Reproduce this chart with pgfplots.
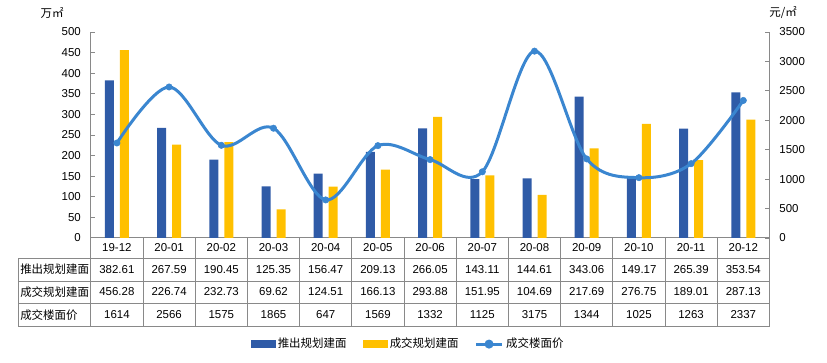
\documentclass[border=0pt]{standalone}
\usepackage{pgfplots}
\pgfplotsset{compat=1.18}
\usepackage{pgfplotstable}
\usepackage{fontspec}
\setmainfont{Liberation Sans}
\newfontfamily\cjk{Noto Sans CJK SC}

\definecolor{barblue}{RGB}{47,91,167}
\definecolor{baryellow}{RGB}{255,192,0}
\definecolor{lineblue}{RGB}{58,134,208}
\definecolor{gridgray}{RGB}{137,137,137}

\pgfplotstableread{
x cat a b p
0 19-12 382.61 456.28 1614
1 20-01 267.59 226.74 2566
2 20-02 190.45 232.73 1575
3 20-03 125.35 69.62 1865
4 20-04 156.47 124.51 647
5 20-05 209.13 166.13 1569
6 20-06 266.05 293.88 1332
7 20-07 143.11 151.95 1125
8 20-08 144.61 104.69 3175
9 20-09 343.06 217.69 1344
10 20-10 149.17 276.75 1025
11 20-11 265.39 189.01 1263
12 20-12 353.54 287.13 2337
}\data

\newcommand{\tfont}{\fontsize{8.6}{10}\selectfont}

\begin{document}
\begin{tikzpicture}
\begin{scope}[x=0.75pt,y=-0.75pt]
\useasboundingbox (0,0) rectangle (827,363);
\end{scope}

\begin{axis}[
  at={(68.1pt,-178.5pt)}, anchor=south west,
  scale only axis, width=508.95pt, height=154.5pt,
  xmin=-0.5, xmax=12.5, ymin=0, ymax=500,
  ytick={0,50,...,500},
  xtick={0,...,12},
  xticklabels from table={\data}{cat},
  axis x line*=bottom, axis y line*=left,
  tick align=inside,
  axis line style={gridgray, line width=0.75pt},
  ytick style={gridgray, line width=0.75pt},
  major tick length=3.5pt,
  xtick style={draw=none},
  xticklabel style={anchor=center, yshift=-7.5pt},
  yticklabel style={xshift=-4pt},
  tick label style={font=\tfont},
  /pgf/number format/assume math mode=true,
  clip=false,
]
\addplot[ybar, bar width=6.75pt, bar shift=-5.625pt, fill=barblue, draw=none] table[x=x,y=a]{\data};
\addplot[ybar, bar width=6.75pt, bar shift=5.625pt, fill=baryellow, draw=none] table[x=x,y=b]{\data};
\end{axis}

\begin{axis}[
  at={(68.1pt,-178.5pt)}, anchor=south west,
  scale only axis, width=508.95pt, height=154.5pt,
  xmin=-0.5, xmax=12.5, ymin=0, ymax=3500,
  ytick={0,500,...,3500},
  axis y line*=right, axis x line=none,
  tick align=inside,
  axis line style={gridgray, line width=0.75pt},
  ytick style={gridgray, line width=0.75pt},
  major tick length=3.5pt,
  yticklabel style={xshift=4pt},
  tick label style={font=\tfont},
  /pgf/number format/assume math mode=true,
  /pgf/number format/1000 sep={},
  clip=false,
  legend style={draw=none, at={(0.468,-0.515)}, anchor=center, legend columns=3,
    font=\tfont\cjk, inner sep=0pt,
    /tikz/every even column/.append style={column sep=10pt}},
]
\addlegendimage{legend image code/.code={\fill[barblue] (0pt,-2.6pt) rectangle (18pt,2.6pt);}}
\addlegendentry{推出规划建面}
\addlegendimage{legend image code/.code={\fill[baryellow] (0pt,-2.6pt) rectangle (18pt,2.6pt);}}
\addlegendentry{成交规划建面}
\addplot[lineblue, line width=2.25pt, smooth, tension=0.55, mark=*, mark size=2.4pt,
  mark options={solid, fill=lineblue, draw=lineblue, line width=0.4pt},
  legend image code/.code={
    \draw[lineblue, line width=2.25pt] (0pt,0pt) -- (19.5pt,0pt);
    \fill[lineblue] (9.75pt,0pt) circle (2.2pt);}]
  table[x=x,y=p]{\data};
\addlegendentry{成交楼面价}
\end{axis}

\begin{scope}[x=0.75pt,y=-0.75pt]
  \draw[gridgray, line width=0.75pt]
    (18.3,258) -- (769.4,258)
    (18.3,281) -- (769.4,281)
    (18.3,303.5) -- (769.4,303.5)
    (18.3,326.5) -- (769.4,326.5)
    (18.3,258) -- (18.3,326.5);
  \foreach \k in {0,...,13}
    \draw[gridgray, line width=0.75pt] ({90.8+52.2*\k},238) -- ({90.8+52.2*\k},326.5);
  \node[anchor=west, font=\tfont\cjk, inner sep=0pt] at (20,269.5) {推出规划建面};
  \node[anchor=west, font=\tfont\cjk, inner sep=0pt] at (20,292) {成交规划建面};
  \node[anchor=west, font=\tfont\cjk, inner sep=0pt] at (20,315) {成交楼面价};
  \foreach \i in {0,...,12}{
    \pgfplotstablegetelem{\i}{a}\of\data
    \node[font=\tfont, inner sep=0pt] at ({116.9+52.2*\i},269.5) {\pgfplotsretval};
    \pgfplotstablegetelem{\i}{b}\of\data
    \node[font=\tfont, inner sep=0pt] at ({116.9+52.2*\i},292) {\pgfplotsretval};
    \pgfplotstablegetelem{\i}{p}\of\data
    \node[font=\tfont, inner sep=0pt] at ({116.9+52.2*\i},315) {\pgfplotsretval};
  }
  \node[font=\tfont\cjk, inner sep=0pt] at (52,13) {万㎡};
  \node[font=\tfont\cjk, inner sep=0pt] at (783,13) {元/㎡};
\end{scope}
\end{tikzpicture}
\end{document}
